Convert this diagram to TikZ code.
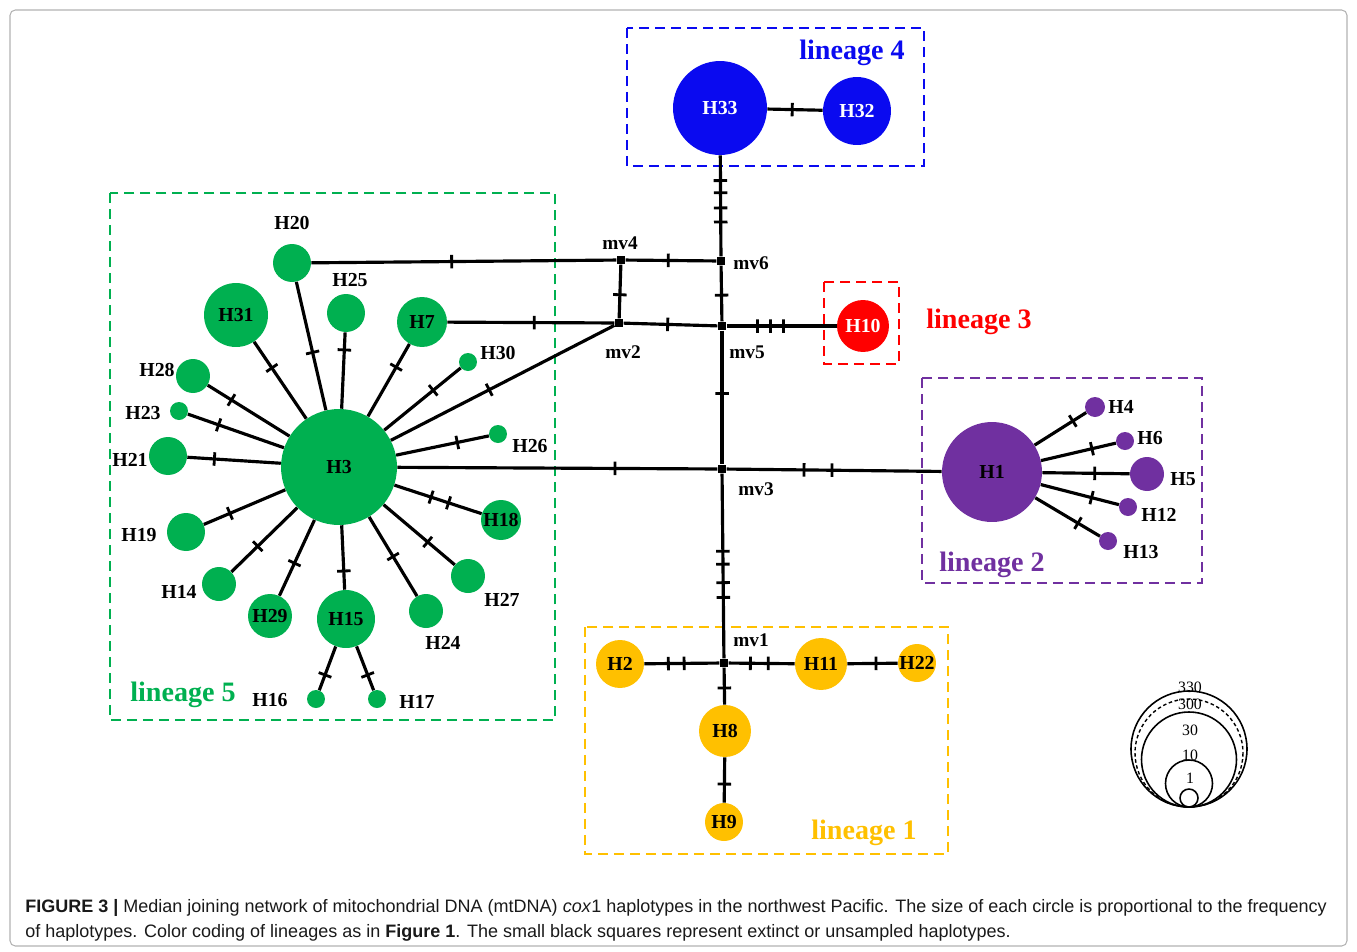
\documentclass[tikz,border=0pt]{standalone}
\usepackage{fontspec}
\setmainfont{Liberation Serif}
\newfontfamily\capfont{Liberation Sans}
\definecolor{lgreen}{HTML}{00B050}
\definecolor{lyellow}{HTML}{FFC000}
\definecolor{lpurple}{HTML}{7030A0}
\definecolor{lblue}{HTML}{0A0AF0}
\definecolor{lred}{HTML}{FF0000}

\begin{document}
\begin{tikzpicture}[x=0.02cm, y=-0.02cm,
    hap/.style={circle, inner sep=0pt, minimum size=#1*0.04cm, font=\fontsize{11.3}{12}\selectfont\bfseries},
    lbl/.style={inner sep=0pt, font=\fontsize{11.3}{12}\selectfont\bfseries},
    mvsq/.style={fill=black, inner sep=0pt, minimum size=0.17cm},
    mvl/.style={inner sep=0pt, font=\fontsize{11}{12}\selectfont\bfseries},
    edge/.style={line width=1.8pt},
    tk/.style={draw, sloped, inner sep=0pt, minimum width=0pt, minimum height=0.27cm, line width=1.6pt},
    box/.style={line width=1.4pt, dash pattern=on 0.2cm off 0.12cm},
    lin/.style={inner sep=0pt, font=\fontsize{16}{18}\selectfont\bfseries},
    leg/.style={inner sep=0pt, font=\fontsize{9}{10}\selectfont},
    capn/.style={inner sep=0pt, anchor=west, text=black!90, font=\capfont\fontsize{10.25}{12}\selectfont}
]
\useasboundingbox (0,0) rectangle (1357,951);
\draw[gray!60, line width=0.6pt, rounded corners=3pt] (10,10) rectangle (1347,946);

% lineage boxes
\draw[box, lblue] (627,28) rectangle (924,166);
\draw[box, lred] (824,282) rectangle (899,364);
\draw[box, lpurple] (922,378) rectangle (1202,583);
\draw[box, lyellow] (585,627) rectangle (948,854);
\draw[box, lgreen] (110,193) rectangle (555,720);

\node[lin, text=lblue] (L4) at (852,53) {lineage 4};
\node[lin, text=lred] (L3) at (979,322) {lineage 3};
\node[lin, text=lpurple] (L2) at (992,565) {lineage 2};
\node[lin, text=lyellow] (L1) at (864,833) {lineage 1};
\node[lin, text=lgreen] (L5) at (183,695) {lineage 5};

% median vectors
\node[mvsq] (mv1) at (724,663) {};
\node[mvsq] (mv2) at (619,323) {};
\node[mvsq] (mv3) at (722,469) {};
\node[mvsq] (mv4) at (621,260) {};
\node[mvsq] (mv5) at (722,326) {};
\node[mvsq] (mv6) at (721,261) {};
\node[mvl] (mv1l) at (751,640) {mv1};
\node[mvl] (mv2l) at (623,352) {mv2};
\node[mvl] (mv3l) at (756,489) {mv3};
\node[mvl] (mv4l) at (620,243) {mv4};
\node[mvl] (mv5l) at (747,352) {mv5};
\node[mvl] (mv6l) at (751,263) {mv6};

% lineage 4
\node[hap=47, fill=lblue, text=white] (H33) at (720,108) {H33};
\node[hap=34, fill=lblue, text=white] (H32) at (857,111) {H32};
% lineage 3
\node[hap=26, fill=lred, text=white] (H10) at (863,326) {H10};
% lineage 2
\node[hap=50, fill=lpurple] (H1) at (992,472) {H1};
\node[hap=10, fill=lpurple] (H4) at (1095,407) {};
\node[hap=9, fill=lpurple] (H6) at (1125,441) {};
\node[hap=17, fill=lpurple] (H5) at (1147,474) {};
\node[hap=9, fill=lpurple] (H12) at (1128,507) {};
\node[hap=9, fill=lpurple] (H13) at (1108,541) {};
\node[lbl] (H4l) at (1121,407) {H4};
\node[lbl] (H6l) at (1150,438) {H6};
\node[lbl] (H5l) at (1183,479) {H5};
\node[lbl] (H12l) at (1159,515) {H12};
\node[lbl] (H13l) at (1141,552) {H13};
% lineage 1
\node[hap=24, fill=lyellow] (H2) at (620,664) {H2};
\node[hap=26, fill=lyellow] (H11) at (821,664) {H11};
\node[hap=19, fill=lyellow] (H22) at (917,663) {H22};
\node[hap=26, fill=lyellow] (H8) at (725,731) {H8};
\node[hap=19, fill=lyellow] (H9) at (724,822) {H9};
% lineage 5
\node[hap=58, fill=lgreen] (H3) at (339,467) {H3};
\node[hap=19, fill=lgreen] (H20) at (292,263) {};
\node[hap=32, fill=lgreen] (H31) at (236,315) {H31};
\node[hap=19, fill=lgreen] (H25) at (346,313) {};
\node[hap=25, fill=lgreen] (H7) at (422,322) {H7};
\node[hap=9, fill=lgreen] (H30) at (468,362) {};
\node[hap=17, fill=lgreen] (H28) at (193,376) {};
\node[hap=9, fill=lgreen] (H23) at (179,411) {};
\node[hap=19, fill=lgreen] (H21) at (168,456) {};
\node[hap=9, fill=lgreen] (H26) at (498,434) {};
\node[hap=20, fill=lgreen] (H18) at (501,520) {H18};
\node[hap=19, fill=lgreen] (H19) at (186,532) {};
\node[hap=17, fill=lgreen] (H14) at (219,584) {};
\node[hap=22, fill=lgreen] (H29) at (270,616) {H29};
\node[hap=29, fill=lgreen] (H15) at (346,619) {H15};
\node[hap=17, fill=lgreen] (H24) at (426,611) {};
\node[hap=17, fill=lgreen] (H27) at (468,576) {};
\node[hap=9, fill=lgreen] (H16) at (316,699) {};
\node[hap=9, fill=lgreen] (H17) at (377,699) {};
\node[lbl] (H20l) at (292,223) {H20};
\node[lbl] (H25l) at (350,280) {H25};
\node[lbl] (H30l) at (498,353) {H30};
\node[lbl] (H28l) at (157,370) {H28};
\node[lbl] (H23l) at (143,413) {H23};
\node[lbl] (H21l) at (130,460) {H21};
\node[lbl] (H26l) at (530,446) {H26};
\node[lbl] (H19l) at (139,535) {H19};
\node[lbl] (H14l) at (179,592) {H14};
\node[lbl] (H24l) at (443,643) {H24};
\node[lbl] (H27l) at (502,600) {H27};
\node[lbl] (H16l) at (270,700) {H16};
\node[lbl] (H17l) at (417,702) {H17};

% backbone
\draw[edge] (H33) -- node[tk,pos=.45]{} (H32);
\draw[edge] (H33) -- node[tk,pos=.25]{} node[tk,pos=.37]{} node[tk,pos=.52]{} node[tk,pos=.66]{} (mv6);
\draw[edge] (mv6) -- node[tk,pos=.53]{} (mv5);
\draw[edge] (mv4) -- node[tk,pos=.47]{} (mv6);
\draw[edge] (mv4) -- node[tk,pos=.56]{} (mv2);
\draw[edge] (mv2) -- node[tk,pos=.47]{} (mv5);
\draw[edge] (mv5) -- node[tk,pos=.28]{} node[tk,pos=.40]{} node[tk,pos=.52]{} (H10);
\draw[edge] (H20) -- node[tk,pos=.46]{} (mv4);
\draw[edge] (H7) -- node[tk,pos=.52]{} (mv2);
\draw[edge] (H3) -- node[tk,pos=.44]{} (mv2);
\draw[edge] (H3) -- node[tk,pos=.68]{} (mv3);
\draw[edge] (mv3) -- node[tk,pos=.36]{} node[tk,pos=.49]{} (H1);
\draw[edge] (mv5) -- node[tk,pos=.47]{} (mv3);
\draw[edge] (mv3) -- node[tk,pos=.42]{} node[tk,pos=.49]{} node[tk,pos=.59]{} node[tk,pos=.67]{} (mv1);

% lineage 1 edges
\draw[edge] (H2) -- node[tk,pos=.32]{} node[tk,pos=.53]{} (mv1);
\draw[edge] (mv1) -- node[tk,pos=.33]{} node[tk,pos=.60]{} (H11);
\draw[edge] (H11) -- node[tk,pos=.57]{} (H22);
\draw[edge] (mv1) -- node[tk,pos=.55]{} (H8);
\draw[edge] (H8) -- node[tk,pos=.59]{} (H9);

% lineage 2 edges
\draw[edge] (H1) -- node[tk,pos=.74]{} (H4);
\draw[edge] (H1) -- node[tk,pos=.68]{} (H6);
\draw[edge] (H1) -- node[tk,pos=.60]{} (H5);
\draw[edge] (H1) -- node[tk,pos=.65]{} (H12);
\draw[edge] (H1) -- node[tk,pos=.66]{} (H13);

% lineage 5 edges
\draw[edge] (H3) -- node[tk,pos=.45]{} (H20);
\draw[edge] (H3) -- node[tk,pos=.66]{} (H31);
\draw[edge] (H3) -- node[tk,pos=.77]{} (H25);
\draw[edge] (H3) -- node[tk,pos=.68]{} (H7);
\draw[edge] (H3) -- node[tk,pos=.64]{} (H30);
\draw[edge] (H3) -- node[tk,pos=.71]{} (H28);
\draw[edge] (H3) -- node[tk,pos=.68]{} (H23);
\draw[edge] (H3) -- node[tk,pos=.71]{} (H21);
\draw[edge] (H3) -- node[tk,pos=.66]{} (H26);
\draw[edge] (H3) -- node[tk,pos=.42]{} node[tk,pos=.62]{} (H18);
\draw[edge] (H3) -- node[tk,pos=.62]{} (H27);
\draw[edge] (H3) -- node[tk,pos=.50]{} (H24);
\draw[edge] (H3) -- node[tk,pos=.71]{} (H15);
\draw[edge] (H3) -- node[tk,pos=.57]{} (H29);
\draw[edge] (H3) -- node[tk,pos=.60]{} (H14);
\draw[edge] (H3) -- node[tk,pos=.68]{} (H19);
\draw[edge] (H15) -- node[tk,pos=.65]{} (H16);
\draw[edge] (H15) -- node[tk,pos=.65]{} (H17);

% size legend
\draw[line width=0.9pt] (1189,749) circle[radius=58];
\draw[line width=0.8pt, dash pattern=on 2pt off 1.5pt] (1189,753) circle[radius=54];
\draw[line width=0.9pt] (1189,759.5) circle[radius=47.5];
\draw[line width=0.9pt] (1189,783.5) circle[radius=23.5];
\draw[line width=0.9pt] (1189,798) circle[radius=9];
\node[leg] (s330) at (1190,687) {330};
\node[leg] (s300) at (1190,704) {300};
\node[leg] (s30) at (1190,730) {30};
\node[leg] (s10) at (1190,755) {10};
\node[leg] (s1) at (1190,778) {1};

% caption
\node[capn] (cap1) at (25,908) {\textbf{FIGURE 3 |} Median joining network of mitochondrial DNA (mtDNA) \textit{cox}1 haplotypes in the northwest Pacific. The size of each circle is proportional to the frequency};
\node[capn] (cap2) at (25,933) {of haplotypes. Color coding of lineages as in \textbf{Figure 1}. The small black squares represent extinct or unsampled haplotypes.};
\end{tikzpicture}
\end{document}
